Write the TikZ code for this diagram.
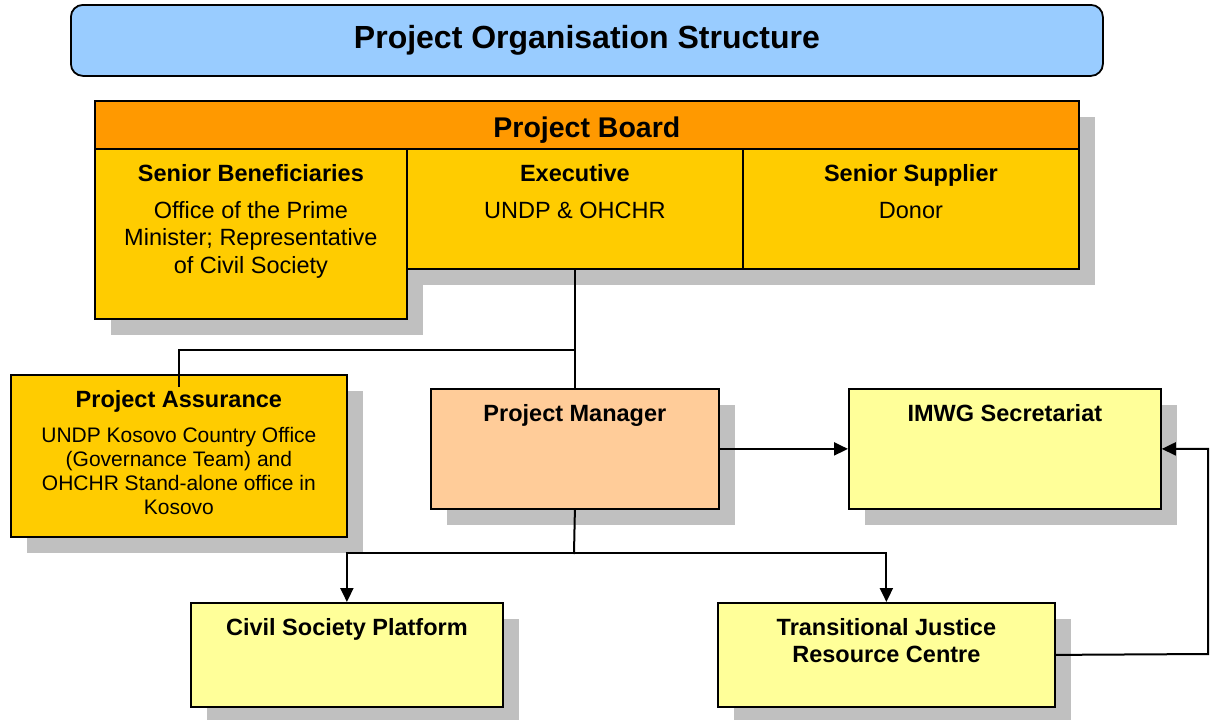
\documentclass[tikz,border=0pt]{standalone}
\usepackage{fontspec}
\setmainfont{Liberation Sans}
\usetikzlibrary{shadows,arrows.meta}

\definecolor{skyblue}{HTML}{99CCFF}
\definecolor{boardorange}{HTML}{FF9900}
\definecolor{gold}{HTML}{FFCC00}
\definecolor{peach}{HTML}{FFCC99}
\definecolor{paleyellow}{HTML}{FFFF99}
\definecolor{shadowgray}{HTML}{C0C0C0}

\begin{document}
\begin{tikzpicture}[x=1pt,y=-1pt,
    box/.style={draw,line width=1.8pt,anchor=north west,inner sep=0pt,
      general shadow={fill=shadowgray,shadow xshift=16pt,shadow yshift=-16pt}},
    txt/.style={anchor=north,align=center,inner sep=0pt,yshift=-16pt,
      font=\fontsize{23.5}{27.5}\selectfont},
    hd/.style={txt,font=\bfseries\fontsize{23.5}{27.5}\selectfont},
    link/.style={line width=2pt,line cap=rect},
    arr/.style={line width=2pt,-{Triangle[length=14pt,width=13pt]}}]
        \useasboundingbox (0,0) rectangle (1211,720);
        \node[draw,line width=1.8pt,rounded corners=12pt,fill=skyblue,anchor=north west,
          minimum width=1032pt,minimum height=71pt,
          font=\bfseries\fontsize{32}{36}\selectfont] (title) at (70,4) {Project Organisation Structure};
        % project board
        \node[box,fill=boardorange,minimum width=984pt,minimum height=48pt,
          text height=26pt,text depth=0pt,
          font=\bfseries\fontsize{28.5}{33}\selectfont] (board) at (94,100) {Project Board};
        \node[box,fill=gold,minimum width=312pt,minimum height=170pt,
          label={[txt]north:{\textbf{Senior Beneficiaries}\\[9.5pt]Office of the Prime\\Minister; Representative\\of Civil Society}}] (benef) at (94,148) {};
        \node[box,fill=gold,minimum width=336pt,minimum height=120pt,
          label={[txt]north:{\textbf{Executive}\\[9.5pt]UNDP \& OHCHR}}] (exec) at (406,148) {};
        \node[box,fill=gold,minimum width=336pt,minimum height=120pt,
          label={[txt]north:{\textbf{Senior Supplier}\\[9.5pt]Donor}}] (supp) at (742,148) {};
        % team
        \node[box,fill=gold,minimum width=336pt,minimum height=162pt,
          label={[txt,font=\fontsize{21}{24}\selectfont]north:{{\bfseries\fontsize{23.5}{27.5}\selectfont Project Assurance}\\[11pt]UNDP Kosovo Country Office\\(Governance Team) and\\OHCHR Stand-alone office in\\Kosovo}}] (pa) at (10,374) {};
        \node[box,fill=peach,minimum width=288pt,minimum height=120pt,
          label={[hd]north:Project Manager}] (pm) at (430,388) {};
        \node[box,fill=paleyellow,minimum width=312pt,minimum height=120pt,
          label={[hd]north:IMWG Secretariat}] (imwg) at (848,388) {};
        \node[box,fill=paleyellow,minimum width=312pt,minimum height=104pt,
          label={[hd]north:Civil Society Platform}] (csp) at (190,602) {};
        \node[box,fill=paleyellow,minimum width=337pt,minimum height=104pt,
          label={[hd]north:{Transitional Justice\\Resource Centre}}] (tjrc) at (717,602) {};
        % connectors
        \coordinate (split) at (574,350);
        \coordinate (fork) at (574,553);
        \coordinate (bend) at (1208,654);
        \draw[link] (exec.south) -- (pm.north);
        \draw[link] (split) -| ([yshift=-12pt]pa.north);
        \draw[link] (pm.south) -- (fork);
        \draw[arr] (fork) -| (csp.north);
        \draw[arr] (fork) -| (tjrc.north);
        \draw[arr] (pm.east) -- (imwg.west);
        \draw[arr] (tjrc.east) -- (bend) |- (imwg.east);
\end{tikzpicture}
\end{document}
